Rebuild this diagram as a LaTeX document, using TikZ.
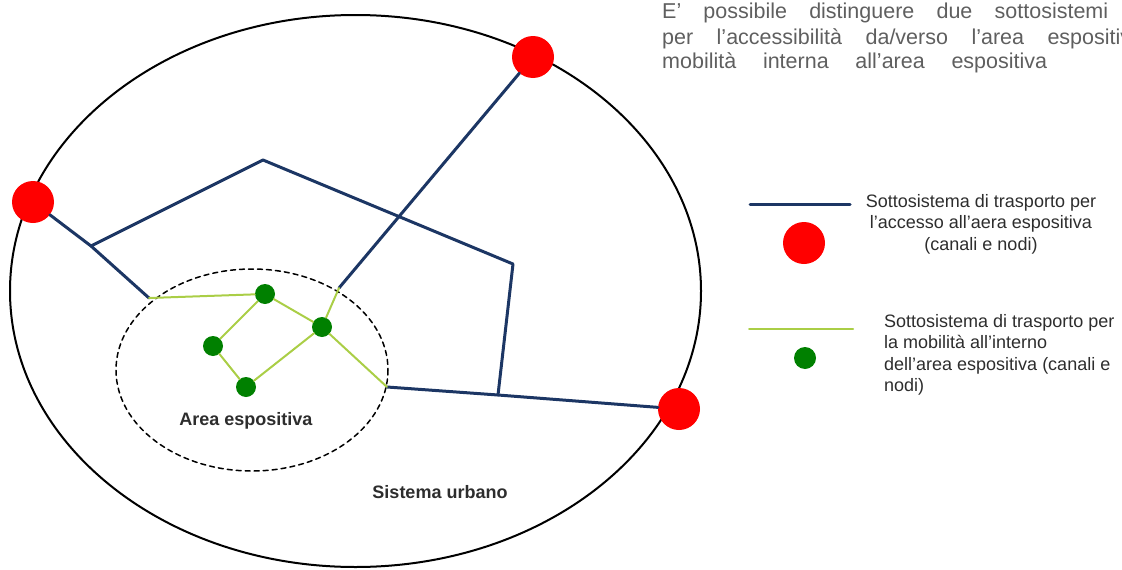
\documentclass[tikz,border=0pt]{standalone}
\usepackage{fontspec}
\setmainfont{Liberation Sans}
\definecolor{blu}{RGB}{28,54,100}
\definecolor{verdechiaro}{RGB}{170,206,70}
\definecolor{verde}{RGB}{0,128,0}
\definecolor{grigio}{RGB}{95,95,95}
\definecolor{scuro}{RGB}{45,45,45}

\begin{document}
\begin{tikzpicture}[line cap=round,line join=round,x=1pt,y=-1pt,
  accesso/.style={line width=3pt,color=blu},
  interno/.style={line width=2pt,color=verdechiaro},
  nodorosso/.style={circle,fill=red,minimum size=42pt,inner sep=0pt},
  nodoverde/.style={circle,fill=verde,minimum size=20pt,inner sep=0pt},
  etichetta/.style={font=\bfseries\fontsize{18}{21}\selectfont,text=scuro},
  legenda/.style={font=\fontsize{18}{21.5}\selectfont,text=scuro,inner sep=0pt}]
\useasboundingbox (0,0) rectangle (1122,570);
% sistema urbano e area espositiva
\draw[line width=2pt] (355.5,291) ellipse (345.5 and 276);
\draw[line width=1.5pt,dash pattern=on 5pt off 4pt] (252,370) ellipse (136 and 101);
% nodi di accesso
\node[nodorosso] (R1) at (33,202) {};
\node[nodorosso] (R2) at (533,57) {};
\node[nodorosso] (R3) at (679,409) {};
% nodi interni
\node[nodoverde] (G1) at (265,294) {};
\node[nodoverde] (G2) at (322,327) {};
\node[nodoverde] (G3) at (213,346) {};
\node[nodoverde] (G4) at (246,387) {};
\coordinate (J1) at (91,246);
\coordinate (A1) at (149,298);
\coordinate (P) at (263,160);
\coordinate (Q) at (513,264);
\coordinate (J2) at (498,395);
\coordinate (A2) at (387,387);
\coordinate (B1) at (339,288);
% canali di accesso
\draw[accesso] (R1) -- (J1) -- (A1);
\draw[accesso] (J1) -- (P) -- (Q) -- (J2);
\draw[accesso] (A2) -- (J2) -- (R3);
\draw[accesso] (R2) -- (B1);
% canali interni
\draw[interno] (A1) -- (G1);
\draw[interno] (G1) -- (G3) -- (G4) -- (G2) -- (G1);
\draw[interno] (G2) -- (B1);
\draw[interno] (G2) -- (A2);
\node[etichetta] (area) at (246,421) {Area espositiva};
\node[etichetta] (urbano) at (440,492) {Sistema urbano};
% testo in alto
\begin{scope}[every node/.style={anchor=base west,inner sep=0pt,text=grigio,font=\fontsize{21.5}{25}\selectfont}]
\node (t1) at (662,19) {\makebox[446pt][s]{E’ possibile distinguere due sottosistemi}};
\node (t2) at (662,44) {\makebox[481pt][s]{per l’accessibilità da/verso l’area espositiva}};
\node (t3) at (662,68) {\makebox[385pt][s]{mobilità interna all’area espositiva}};
\end{scope}
% legenda
\coordinate (L1a) at (750,204);
\coordinate (L1b) at (850,204);
\draw[accesso] (L1a) -- (L1b);
\node[nodorosso] (legR) at (804,243) {};
\node[legenda,anchor=north,align=center] (leg1) at (981,194)
  {Sottosistema di trasporto per\\l’accesso all’aera espositiva\\(canali e nodi)};
\coordinate (L2a) at (749,329);
\coordinate (L2b) at (853,329);
\draw[interno] (L2a) -- (L2b);
\node[nodoverde,minimum size=22pt] (legG) at (805,358) {};
\node[legenda,anchor=north west,align=left] (leg2) at (884,314)
  {Sottosistema di trasporto per\\la mobilità all’interno\\dell’area espositiva (canali e\\nodi)};
\end{tikzpicture}
\end{document}
